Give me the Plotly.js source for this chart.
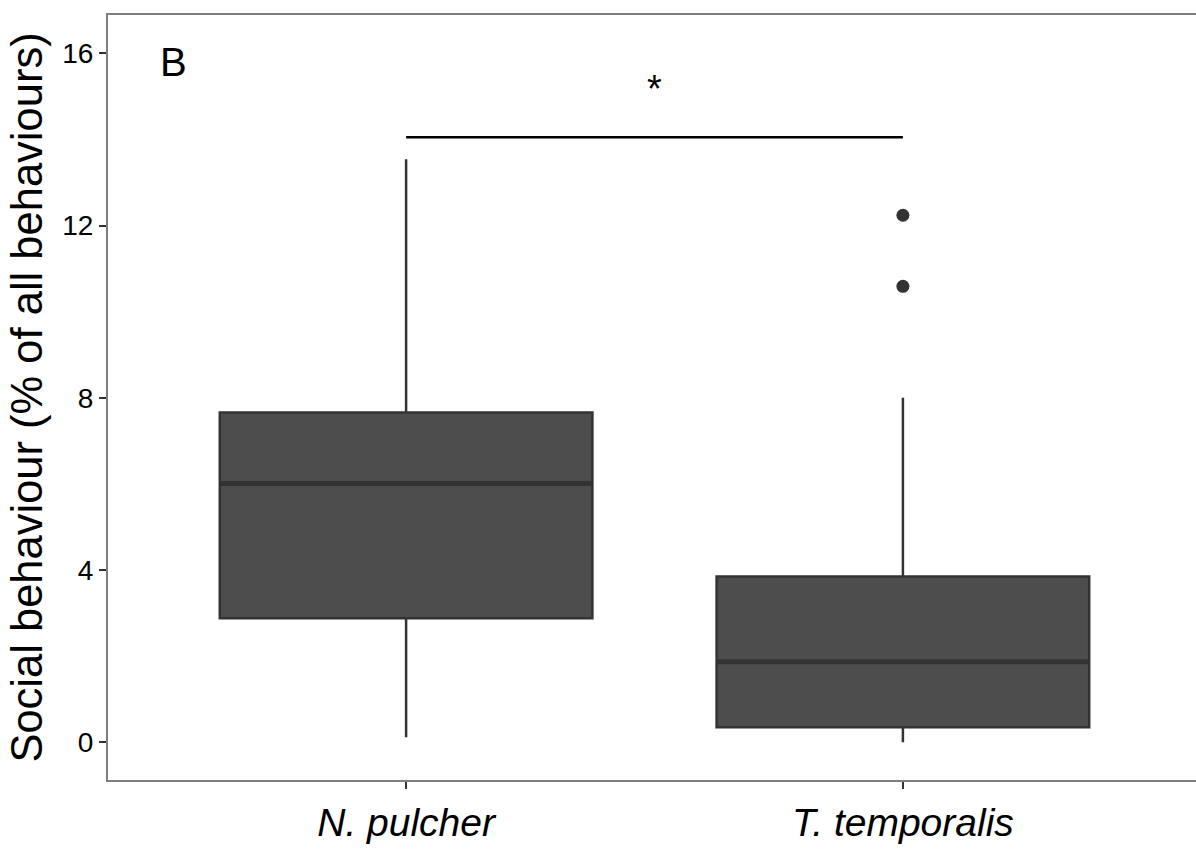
<!DOCTYPE html>
<html>
<head>
<meta charset="utf-8">
<script src="https://cdn.plot.ly/plotly-3.0.1.min.js"></script>
<style>
  html, body { margin: 0; padding: 0; overflow: hidden; background: #ffffff; }
  #chart { width: 1205px; height: 851px; }
</style>
</head>
<body>
<div id="chart"></div>
<script>
// ---- data ----
const categories = ["N. pulcher", "T. temporalis"];
const lowerWhisker = [0.12, 0.0];
const q1 = [2.88, 0.35];
const median = [6.01, 1.87];
const q3 = [7.66, 3.85];
const upperWhisker = [13.54, 8.0];
const outlierCategory = [1, 1];
const outlierValues = [12.24, 10.59];
const sigPair = [0, 1];
const sigLevel = 14.05;
const sigLabel = "*";
const panelLabel = "B";
const yTicks = [0, 4, 8, 12, 16];

const xPos = categories.map((c, i) => i);
const boxWidth = 0.75;

const FONT = "Liberation Sans, Arial, Helvetica, sans-serif";

const medX = [], medY = [];
xPos.forEach((x, i) => {
  medX.push(x - boxWidth / 2, x + boxWidth / 2, null);
  medY.push(median[i], median[i], null);
});

const traces = [
  {
    type: "box",
    x: xPos,
    q1: q1,
    median: median,
    q3: q3,
    lowerfence: lowerWhisker,
    upperfence: upperWhisker,
    width: boxWidth,
    whiskerwidth: 0,
    boxpoints: false,
    fillcolor: "#4d4d4d",
    line: { color: "#333333", width: 2.5 },
    hoverinfo: "skip",
    showlegend: false
  },
  {
    type: "scatter",
    mode: "lines",
    x: medX,
    y: medY,
    line: { color: "#333333", width: 5 },
    hoverinfo: "skip",
    showlegend: false
  },
  {
    type: "scatter",
    mode: "markers",
    x: outlierCategory,
    y: outlierValues,
    marker: { color: "#333333", size: 13 },
    hoverinfo: "skip",
    showlegend: false
  },
  {
    type: "scatter",
    mode: "lines",
    x: sigPair,
    y: [sigLevel, sigLevel],
    line: { color: "#000000", width: 2.5 },
    hoverinfo: "skip",
    showlegend: false
  }
];

const layout = {
  width: 1205,
  height: 851,
  margin: { l: 108, r: 4, t: 15, b: 71 },
  paper_bgcolor: "#ffffff",
  plot_bgcolor: "#ffffff",
  showlegend: false,
  font: { family: FONT, color: "#000000" },
  xaxis: {
    range: [-0.6, 1.6],
    tickmode: "array",
    tickvals: xPos,
    ticktext: categories,
    tickfont: { family: FONT, size: 39, color: "#000000", style: "italic" },
    ticks: "outside",
    ticklen: 7,
    tickwidth: 2,
    tickcolor: "#333333",
    showgrid: false,
    zeroline: false,
    showline: true,
    mirror: true,
    linecolor: "#7f7f7f",
    linewidth: 2
  },
  yaxis: {
    range: [-0.875, 16.89],
    tickmode: "array",
    tickvals: yTicks,
    ticktext: yTicks.map(String),
    tickfont: { family: FONT, size: 28, color: "#000000" },
    ticks: "outside",
    ticklen: 7,
    tickwidth: 2,
    tickcolor: "#333333",
    showgrid: false,
    zeroline: false,
    showline: true,
    mirror: true,
    linecolor: "#7f7f7f",
    linewidth: 2,
    title: {
      text: "Social behaviour (% of all behaviours)",
      font: { family: FONT, size: 43.5, color: "#000000" },
      standoff: 6
    }
  },
  annotations: [
    {
      x: 0.5, y: sigLevel, xref: "x", yref: "y",
      text: sigLabel,
      showarrow: false,
      yanchor: "bottom",
      yshift: 25,
      font: { family: FONT, size: 38, color: "#000000" }
    },
    {
      x: 0.046, y: 0.97, xref: "paper", yref: "paper",
      text: panelLabel,
      showarrow: false,
      xanchor: "left",
      yanchor: "top",
      font: { family: FONT, size: 40, color: "#000000" }
    }
  ]
};

Plotly.newPlot("chart", traces, layout, { staticPlot: true, displayModeBar: false });
</script>
</body>
</html>
